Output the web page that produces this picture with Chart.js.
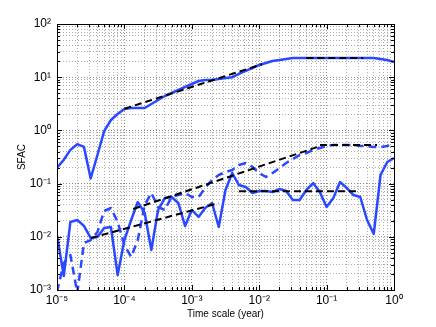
<!DOCTYPE html>
<html><head><meta charset="utf-8">
<script src="https://cdn.jsdelivr.net/npm/chart.js@4.4.1/dist/chart.umd.min.js"></script>
<style>html,body{margin:0;padding:0;background:#fff;}</style>
</head><body>
<canvas id="c" width="436" height="327"></canvas>
<script>
// Time scale (year) sample positions
const TIME = [
 1.00e-5,1.26e-5,1.58e-5,2.00e-5,2.51e-5,3.16e-5,3.98e-5,5.01e-5,6.31e-5,7.94e-5,
 1.00e-4,1.26e-4,1.58e-4,2.00e-4,2.51e-4,3.16e-4,3.98e-4,5.01e-4,6.31e-4,7.94e-4,
 1.00e-3,1.26e-3,1.58e-3,2.00e-3,2.51e-3,3.16e-3,3.98e-3,5.01e-3,6.31e-3,7.94e-3,
 1.00e-2,1.26e-2,1.58e-2,2.00e-2,2.51e-2,3.16e-2,3.98e-2,5.01e-2,6.31e-2,7.94e-2,
 1.00e-1,1.26e-1,1.58e-1,2.00e-1,2.51e-1,3.16e-1,3.98e-1,5.01e-1,6.31e-1,7.94e-1,
 1.00
];
const SFAC_TOP = [
 0.20,0.28,0.43,0.55,0.49,0.125,0.345,0.97,1.57,2.03,
 2.52,2.64,2.64,2.64,3.13,3.72,4.43,5.05,5.75,6.54,
 7.45,8.48,8.9,8.9,9.25,9.7,10.0,11.5,13.1,14.9,
 17.0,18.5,20.2,21.0,22.0,23.0,23.0,23.0,23.0,23.0,
 23.0,23.0,23.0,23.0,23.0,23.0,23.0,23.0,22.0,21.0,
 19.3
];
const SFAC_MID = [
 0.00092,0.00322,0.00455,0.00088,0.00764,0.0087,0.0123,0.0305,0.0348,0.019,
 0.0070,0.00417,0.0087,0.0396,0.0666,0.0363,0.0319,0.056,0.061,0.0666,
 0.056,0.056,0.0826,0.118,0.145,0.165,0.180,0.224,0.244,0.205,
 0.158,0.133,0.158,0.196,0.244,0.290,0.345,0.376,0.428,0.467,
 0.509,0.532,0.532,0.532,0.532,0.509,0.509,0.487,0.487,0.509,
 0.555
];
const SFAC_LOW = [
 0.0108,0.00183,0.019,0.0207,0.016,0.0095,0.0099,0.0146,0.0153,0.00191,
 0.0087,0.0207,0.045,0.028,0.00565,0.0319,0.0536,0.056,0.0432,0.016,
 0.0319,0.0236,0.0348,0.0432,0.0153,0.0759,0.158,0.094,0.0863,0.0666,
 0.0726,0.0726,0.0695,0.079,0.0726,0.0492,0.0492,0.0759,0.1026,0.0695,
 0.0363,0.0536,0.107,0.0826,0.061,0.056,0.0207,0.0113,0.145,0.255,
 0.303
];
// power-law / plateau fits (black dashed)
const FIT_TOP_A_X = [1.0e-4, 1.1e-2], FIT_TOP_A_Y = [2.55, 17.5];
const FIT_TOP_B_X = [0.05, 0.35],     FIT_TOP_B_Y = [23, 23];
const FIT_MID_A_X = [1.35e-4, 0.074], FIT_MID_A_Y = [0.0333, 0.49];
const FIT_MID_B_X = [0.08, 0.56],     FIT_MID_B_Y = [0.53, 0.53];
const FIT_LOW_A_X = [3.2e-5, 2.5e-3], FIT_LOW_A_Y = [0.0095, 0.043];
const FIT_LOW_B_X = [5.0e-3, 0.28],   FIT_LOW_B_Y = [0.072, 0.072];

const X_DECADES = [1e-5,1e-4,1e-3,1e-2,1e-1,1];
const X_TICK_LABELS = ['10\u207B\u2075','10\u207B\u2074','10\u207B\u00B3','10\u207B\u00B2','10\u207B\u00B9','10\u2070'];
const Y_DECADES = [1e-3,1e-2,1e-1,1,10,100];
const Y_TICK_LABELS = ['10\u207B\u00B3','10\u207B\u00B2','10\u207B\u00B9','10\u2070','10\u00B9','10\u00B2'];

const BLUE = '#2a48ff';
function pts(xs, ys){ return xs.map((x,i)=>({x:x, y:ys[i]})); }
function logTicks(decades){
  const out=[];
  for(let d=0; d<decades.length; d++){
    out.push(decades[d]);
    if(d<decades.length-1){ for(let m=2;m<=9;m++) out.push(decades[d]*m); }
  }
  return out;
}
function isDecade(v){ return Math.abs(Math.log10(v)-Math.round(Math.log10(v)))<1e-6; }
function labelFor(v, decades, labels){
  for(let i=0;i<decades.length;i++){ if(Math.abs(Math.log10(v)-Math.log10(decades[i]))<1e-6) return labels[i]; }
  return '';
}

Chart.defaults.font.family = "'Liberation Sans', Arial, Helvetica, sans-serif";
Chart.defaults.font.size = 10;
Chart.defaults.color = '#000';

const fitStyle = {borderColor:'#000', borderWidth:2, borderDash:[7,4], pointRadius:0, fill:false, tension:0};
const framePlugin = {
  id:'frame',
  afterDatasetsDraw(chart){
    const {ctx, chartArea:a, scales} = chart;
    ctx.save();
    ctx.strokeStyle='#000'; ctx.lineWidth=1;
    ctx.beginPath();
    scales.x.ticks.forEach(t=>{
      const px=Math.round(scales.x.getPixelForValue(t.value))+0.5;
      const len=isDecade(t.value)?5:3;
      ctx.moveTo(px,a.bottom); ctx.lineTo(px,a.bottom-len);
      ctx.moveTo(px,a.top); ctx.lineTo(px,a.top+len);
    });
    scales.y.ticks.forEach(t=>{
      const py=Math.round(scales.y.getPixelForValue(t.value))+0.5;
      const len=isDecade(t.value)?5:3;
      ctx.moveTo(a.left,py); ctx.lineTo(a.left+len,py);
      ctx.moveTo(a.right,py); ctx.lineTo(a.right-len,py);
    });
    ctx.stroke();
    ctx.strokeRect(Math.round(a.left)+0.5, Math.round(a.top)+0.5, Math.round(a.right-a.left), Math.round(a.bottom-a.top));
    ctx.restore();
  }
};

const gridColor = (c)=> (c.tick && isDecade(c.tick.value)) ? 'rgba(0,0,0,0.45)' : 'rgba(0,0,0,0.32)';

new Chart(document.getElementById('c'), {
  type:'line',
  data:{ datasets:[
    Object.assign({label:'fit top a', data:pts(FIT_TOP_A_X,FIT_TOP_A_Y)}, fitStyle),
    Object.assign({label:'fit top b', data:pts(FIT_TOP_B_X,FIT_TOP_B_Y)}, fitStyle),
    Object.assign({label:'fit mid a', data:pts(FIT_MID_A_X,FIT_MID_A_Y)}, fitStyle),
    Object.assign({label:'fit mid b', data:pts(FIT_MID_B_X,FIT_MID_B_Y)}, fitStyle),
    Object.assign({label:'fit low a', data:pts(FIT_LOW_A_X,FIT_LOW_A_Y)}, fitStyle),
    Object.assign({label:'fit low b', data:pts(FIT_LOW_B_X,FIT_LOW_B_Y)}, fitStyle),
    {label:'top', data:pts(TIME,SFAC_TOP), borderColor:BLUE, borderWidth:2.5, pointRadius:0, tension:0},
    {label:'mid', data:pts(TIME,SFAC_MID), borderColor:BLUE, borderWidth:2.5, borderDash:[8,5], pointRadius:0, tension:0},
    {label:'low', data:pts(TIME,SFAC_LOW), borderColor:BLUE, borderWidth:2.5, pointRadius:0, tension:0}
  ]},
  options:{
    responsive:false, animation:false, devicePixelRatio:1,
    layout:{padding:{left:0, top:24, right:42, bottom:0}},
    plugins:{legend:{display:false}, tooltip:{enabled:false}},
    elements:{line:{borderCapStyle:'butt', borderJoinStyle:'round'}},
    scales:{
      x:{ type:'logarithmic', min:1e-5, max:1,
        afterBuildTicks:(s)=>{ s.ticks = logTicks(X_DECADES).map(v=>({value:v, major:isDecade(v)})); },
        afterFit:(s)=>{ s.height=37; },
        ticks:{ autoSkip:false, maxRotation:0, padding:3, font:{size:12}, color:'#000',
          callback:(v)=>labelFor(v, X_DECADES, X_TICK_LABELS) },
        grid:{ drawTicks:false, color:gridColor, lineWidth:1 },
        border:{ display:false, dash:[1,2] },
        title:{ display:true, text:'Time scale (year)', font:{size:10}, color:'#000', padding:{top:0,bottom:7} }
      },
      y:{ type:'logarithmic', min:1e-3, max:100,
        afterBuildTicks:(s)=>{ s.ticks = logTicks(Y_DECADES).map(v=>({value:v, major:isDecade(v)})); },
        afterFit:(s)=>{ s.width=57; },
        ticks:{ autoSkip:false, padding:6, font:{size:12}, color:'#000',
          callback:(v)=>labelFor(v, Y_DECADES, Y_TICK_LABELS) },
        grid:{ drawTicks:false, color:gridColor, lineWidth:1 },
        border:{ display:false, dash:[1,2] },
        title:{ display:true, text:'SFAC', font:{size:10}, color:'#000', padding:{top:16,bottom:0} }
      }
    }
  },
  plugins:[framePlugin]
});
</script>
</body></html>
